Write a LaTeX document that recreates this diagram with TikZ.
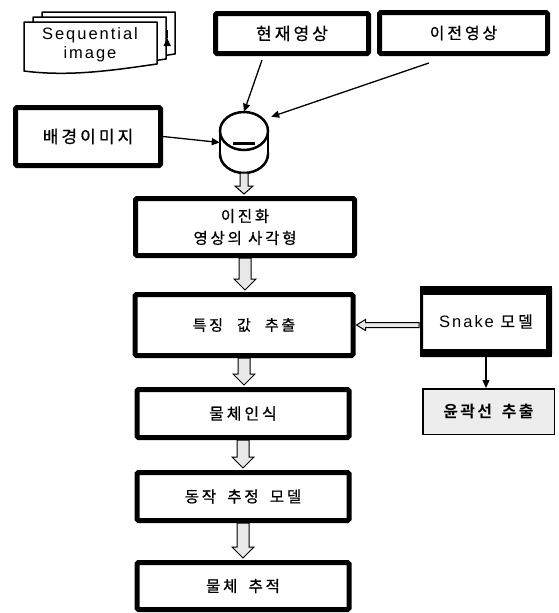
\documentclass[tikz,border=0pt]{standalone}
\usepackage{fontspec}
\setmainfont{Liberation Sans}
\newfontfamily\lat[LetterSpace=12]{Liberation Sans}
\newfontfamily\kr[LetterSpace=18,FakeBold=0.8]{Noto Sans CJK KR}
\newfontfamily\krb[LetterSpace=14]{Noto Sans CJK KR Bold}
\usetikzlibrary{arrows.meta,calc}
\newcommand\blockdown[5]{%
  \draw[blockarr] let \p1=(#1.south), \p2=(#2.north) in
  (\x1-#3pt,\y1) -- (\x1-#3pt,\y2+#5pt+2pt) -- (\x1-#4pt,\y2+#5pt+2pt) -- (\x1,\y2+2pt)
  -- (\x1+#4pt,\y2+#5pt+2pt) -- (\x1+#3pt,\y2+#5pt+2pt) -- (\x1+#3pt,\y1) -- cycle;}
\newcommand\ksize[1]{\kr\fontsize{#1}{22}\selectfont}
\begin{document}
\begin{tikzpicture}[x=1pt,y=-1pt,
  box/.style={draw, line width=5pt, rounded corners=1.5pt, fill=white, inner sep=0pt,
    font=\ksize{16}, align=center},
  ln/.style={line width=1.3pt, -{Triangle[length=8pt,width=7pt]}},
  blockarr/.style={draw, line width=1pt, fill=gray!18, line join=miter},
  page/.style={draw, line width=1.5pt, fill=white, line join=round}]
\useasboundingbox (0,0) rectangle (558,613);

% document stack
\foreach \dx/\dy in {18/-10, 9/-5, 0/0}{
  \begin{scope}[shift={(\dx,\dy)}]
    \path[page] (24,22) -- (157,22) -- (157,64) .. controls (115,70) and (70,77) .. (24,71) -- cycle;
  \end{scope}
}
\node[minimum width=151pt, minimum height=60pt, inner sep=0pt] (seq) at (99.5,42) {};
\node[font=\lat\fontsize{16.5}{19}\selectfont, align=center, inner sep=0pt] (seqtxt) at (90,45) {Sequential\\image};

% top boxes
\node[box, minimum width=153pt, minimum height=40pt, font=\ksize{17}] (cur) at (292,33.5) {현재영상};
\node[box, minimum width=168pt, minimum height=41pt] (prev) at (463.5,33) {이전영상};
\node[box, minimum width=145pt, minimum height=58pt, font=\ksize{17}] (bg) at (88,136.5) {배경이미지};

% subtraction symbol
\node[minimum width=48pt, minimum height=61pt, inner sep=0pt] (sub) at (244,142.5) {};
\draw[line width=2.5pt, fill=white] (244,154) ellipse [x radius=24, y radius=19];
\fill[white] (220,131) rectangle (268,154);
\draw[line width=2.5pt] (220,131) -- (220,154) (268,131) -- (268,154);
\draw[line width=2.5pt, fill=white] (244,131) ellipse [x radius=24, y radius=19];
\draw[line width=3pt] (233,143) -- (255,143);

% main column
\node[box, minimum width=219pt, minimum height=57pt, font=\kr\fontsize{15.5}{22}\selectfont] (bin) at (245,227) {이진화\\영상의 사각형};
\node[box, minimum width=218pt, minimum height=61pt, font=\ksize{15}] (feat) at (244,325) {특징\hspace{8pt} 값\hspace{8pt} 추출};
\node[box, minimum width=212pt, minimum height=48pt] (recog) at (243,413.5) {물체인식};
\node[box, minimum width=212pt, minimum height=48pt, font=\ksize{15.5}] (motion) at (243,496.5) {동작\hspace{5pt} 추정\hspace{5pt} 모델};
\node[box, minimum width=212pt, minimum height=47pt, font=\ksize{15.5}] (track) at (243,586) {물체\hspace{5pt} 추적};

% right side
\node[box, line width=3pt, minimum width=129pt, minimum height=68pt] (snake) at (486,321.5) {\lat\fontsize{16.5}{20}\selectfont Snake \ksize{16}모델};
\fill (snake.north west) rectangle ($(snake.north east)+(0,9)$);
\fill ($(snake.south west)+(0,-8)$) rectangle (snake.south east);
\fill ($(snake.north east)+(-6,0)$) rectangle (snake.south east);
\node[draw, line width=1.5pt, fill=gray!14, inner sep=0pt, minimum width=131.5pt, minimum height=45.5pt,
  font=\krb\fontsize{16}{21}\selectfont] (contour) at (488.5,411.5) {윤곽선\hspace{4pt} 추출};

% connectors
\draw[ln] ($(seq.east)+(-8,-4)$) -- ($(seq.east)+(-8,-4)$ -| cur.west);
\draw[ln] ($(cur.south west)!0.31!(cur.south east)+(0,4)$) -- (sub.north);
\draw[ln] ($(prev.south west)!0.3!(prev.south east)+(0,7)$) -- ($(sub.north east)+(3,5)$);
\draw[ln] (bg.east) -- (sub.west);
\draw[ln] (snake.south) -- (snake.south |- contour.north);

\blockdown{sub}{bin}{4}{9}{8}
\blockdown{bin}{feat}{6}{11}{11}
\blockdown{feat}{recog}{6}{11}{11}
\blockdown{recog}{motion}{6}{11}{11}
\blockdown{motion}{track}{6}{11}{11}

\draw[blockarr] let \p1=(snake.west), \p2=(feat.east) in
  (\x1-1pt,\y2-2.5pt) -- (\x2+10pt,\y2-2.5pt) -- (\x2+10pt,\y2-5.5pt) -- (\x2+1pt,\y2)
  -- (\x2+10pt,\y2+5.5pt) -- (\x2+10pt,\y2+2.5pt) -- (\x1-1pt,\y2+2.5pt) -- cycle;
\end{tikzpicture}
\end{document}
